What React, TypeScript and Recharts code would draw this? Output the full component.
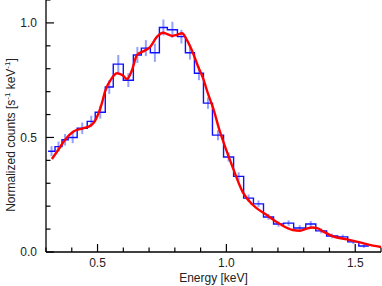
import { ComposedChart, Line, Scatter, ErrorBar, XAxis, YAxis, Label } from "recharts"

// histogram bins (keV edges) of the measured spectrum
const binEdges = [
  0.308, 0.335, 0.362, 0.386, 0.421, 0.46, 0.491, 0.53, 0.561, 0.6, 0.639, 0.67, 0.705, 0.74, 0.771, 0.81, 0.841, 0.876,
  0.911, 0.946, 0.989, 1.028, 1.067, 1.105, 1.144, 1.183, 1.222, 1.261, 1.308, 1.347, 1.389, 1.432, 1.471, 1.514, 1.553,
]
const binCounts = [
  0.44, 0.46, 0.49, 0.5, 0.54, 0.57, 0.61, 0.72, 0.82, 0.75, 0.86, 0.89, 0.87, 0.98, 0.97, 0.94, 0.87, 0.78, 0.65, 0.51,
  0.415, 0.33, 0.235, 0.21, 0.153, 0.122, 0.126, 0.105, 0.122, 0.092, 0.07, 0.066, 0.044, 0.026,
]
const binErrors = [
  0.022, 0.022, 0.025, 0.025, 0.025, 0.025, 0.028, 0.03, 0.04, 0.03, 0.035, 0.035, 0.04, 0.035, 0.035, 0.03, 0.03, 0.03,
  0.025, 0.022, 0.02, 0.018, 0.016, 0.015, 0.013, 0.012, 0.012, 0.012, 0.013, 0.011, 0.01, 0.01, 0.009, 0.008,
]

// fitted model curve
const modelEnergy = [
  0.323, 0.347, 0.374, 0.405, 0.444, 0.471, 0.486, 0.502, 0.517, 0.529, 0.556, 0.576, 0.599, 0.614, 0.634, 0.653, 0.676,
  0.704, 0.731, 0.754, 0.773, 0.789, 0.808, 0.828, 0.847, 0.87, 0.89, 0.909, 0.929, 0.948, 0.975, 0.998, 1.026, 1.064,
  1.103, 1.158, 1.208, 1.258, 1.286, 1.309, 1.332, 1.355, 1.375, 1.414, 1.468, 1.518, 1.569, 1.6,
]
const modelCounts = [
  0.406, 0.445, 0.49, 0.525, 0.54, 0.55, 0.565, 0.6, 0.65, 0.7, 0.76, 0.78, 0.77, 0.755, 0.795, 0.86, 0.875, 0.895, 0.94,
  0.957, 0.95, 0.943, 0.948, 0.955, 0.925, 0.87, 0.81, 0.76, 0.69, 0.63, 0.525, 0.45, 0.365, 0.26, 0.205, 0.16, 0.122,
  0.096, 0.093, 0.101, 0.107, 0.103, 0.09, 0.068, 0.055, 0.042, 0.028, 0.022,
]

const xTicks = [0.3, 0.4, 0.5, 0.6, 0.7, 0.8, 0.9, 1.0, 1.1, 1.2, 1.3, 1.4, 1.5, 1.6]
const xMajor = [0.5, 1.0, 1.5]
const yTicks = [0, 0.1, 0.2, 0.3, 0.4, 0.5, 0.6, 0.7, 0.8, 0.9, 1.0, 1.1]
const yMajor = [0, 0.5, 1.0]

const steps = binEdges.map((e, i) => ({ x: e, y: binCounts[Math.min(i, binCounts.length - 1)] }))
const points = binCounts.map((c, i) => ({ x: (binEdges[i] + binEdges[i + 1]) / 2, y: c, err: binErrors[i] }))
const model = modelEnergy.map((e, i) => ({ x: e, y: modelCounts[i] }))

const FONT = "'Liberation Sans', Arial, sans-serif"
const MAJOR = 8
const MINOR = 4.5
const GAP = 9

function BottomTick({ x, y, payload }: any) {
  const major = xMajor.includes(payload.value)
  const base = y - GAP
  return (
    <g>
      <line x1={x} x2={x} y1={base} y2={base - (major ? MAJOR : MINOR)} stroke="#000" strokeWidth={1.2} />
      {major && (
        <text x={x} y={y - 3} dy="0.71em" textAnchor="middle" fontSize={12} fontFamily={FONT} fill="#222">
          {payload.value.toFixed(1)}
        </text>
      )}
    </g>
  )
}

function TopTick({ x, y, payload }: any) {
  const major = xMajor.includes(payload.value)
  return <line x1={x} x2={x} y1={y} y2={y + (major ? MAJOR : MINOR)} stroke="#000" strokeWidth={1.2} />
}

function LeftTick({ x, y, payload }: any) {
  const major = yMajor.includes(payload.value)
  const base = x + GAP
  return (
    <g>
      <line x1={base} x2={base + (major ? MAJOR : MINOR)} y1={y} y2={y} stroke="#000" strokeWidth={1.2} />
      {major && (
        <text x={x} y={y} dy="0.355em" textAnchor="end" fontSize={12} fontFamily={FONT} fill="#222">
          {payload.value.toFixed(1)}
        </text>
      )}
    </g>
  )
}

function RightTick({ x, y, payload }: any) {
  const major = yMajor.includes(payload.value)
  return <line x1={x} x2={x - (major ? MAJOR : MINOR)} y1={y} y2={y} stroke="#000" strokeWidth={1.2} />
}

const YTitle = () => (
  <text
    x={0}
    y={0}
    transform="translate(15,135) rotate(-90)"
    textAnchor="middle"
    fontSize={12}
    fontFamily={FONT}
    fill="#222"
  >
    Normalized counts [s
    <tspan dy={-5} fontSize={8}>-1</tspan>
    <tspan dy={5}> keV</tspan>
    <tspan dy={-5} fontSize={8}>-1</tspan>
    <tspan dy={5}>]</tspan>
  </text>
)

const XTitle = () => (
  <text x={213.5} y={282} textAnchor="middle" fontSize={12} fontFamily={FONT} fill="#222">
    Energy [keV]
  </text>
)

export default function App() {
  return (
    <div style={{ position: "absolute", left: 0, top: 0, width: 382, height: 286, background: "#fff" }}>
      <ComposedChart width={382} height={286} margin={{ top: 0, right: 1, bottom: 0, left: 0 }}>
        <XAxis
          xAxisId={0}
          dataKey="x"
          type="number"
          domain={[0.3, 1.6]}
          ticks={xTicks}
          interval={0}
          allowDataOverflow
          height={34}
          tickSize={0}
          tickMargin={GAP}
          tickLine={false}
          axisLine={{ stroke: "#000", strokeWidth: 1.3 }}
          tick={BottomTick}
        >
          <Label content={XTitle} />
        </XAxis>
        <XAxis
          xAxisId="top"
          orientation="top"
          type="number"
          domain={[0.3, 1.6]}
          ticks={xTicks}
          interval={0}
          allowDataOverflow
          height={0}
          tickSize={0}
          tickMargin={0}
          tickLine={false}
          axisLine={{ stroke: "#000", strokeWidth: 1.3 }}
          tick={TopTick}
        />
        <YAxis
          yAxisId={0}
          type="number"
          domain={[0, 1.1]}
          ticks={yTicks}
          interval={0}
          allowDataOverflow
          width={46}
          tickSize={0}
          tickMargin={GAP}
          tickLine={false}
          axisLine={{ stroke: "#000", strokeWidth: 1.3 }}
          tick={LeftTick}
        >
          <Label content={YTitle} />
        </YAxis>
        <YAxis
          yAxisId="right"
          orientation="right"
          type="number"
          domain={[0, 1.1]}
          ticks={yTicks}
          interval={0}
          allowDataOverflow
          width={0}
          tickSize={0}
          tickMargin={0}
          tickLine={false}
          axisLine={{ stroke: "#000", strokeWidth: 1.3 }}
          tick={RightTick}
        />
        <Scatter data={points} dataKey="y" shape={() => <g />} isAnimationActive={false}>
          <ErrorBar dataKey="err" direction="y" width={0} stroke="#7080ff" strokeOpacity={0.75} strokeWidth={2} />
        </Scatter>
        <Line
          data={steps}
          dataKey="y"
          type="stepAfter"
          stroke="#1010ff"
          strokeWidth={1.4}
          dot={false}
          activeDot={false}
          isAnimationActive={false}
        />
        <Line
          data={model}
          dataKey="y"
          type="monotone"
          stroke="#ff0000"
          strokeWidth={2.4}
          dot={false}
          activeDot={false}
          isAnimationActive={false}
        />
      </ComposedChart>
    </div>
  )
}
